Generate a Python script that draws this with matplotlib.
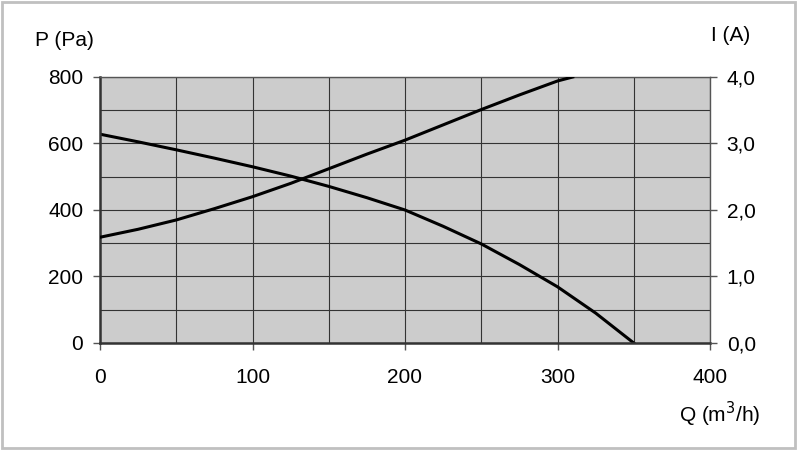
import matplotlib.pyplot as plt
from matplotlib.patches import Rectangle
from matplotlib.ticker import MultipleLocator, FuncFormatter

plt.rcParams['font.family'] = ['Liberation Sans', 'DejaVu Sans']

# pressure curve P (Pa) vs flow Q (m3/h)
q_p = [0, 25, 50, 75, 100, 125, 150, 175, 200, 225, 250, 275, 300, 325, 350]
p_vals = [628, 605, 581, 556, 530, 502, 471, 437, 400, 351, 298, 236, 169, 90, 0]

# current curve I (A) vs flow Q (m3/h)
q_i = [0, 25, 50, 75, 100, 125, 150, 175, 200, 225, 250, 275, 300, 310]
i_vals = [1.59, 1.71, 1.85, 2.02, 2.2, 2.4, 2.62, 2.84, 3.05, 3.28, 3.51, 3.73, 3.94, 4.0]

p_ticks = [0, 200, 400, 600, 800]
i_ticks = [0, 1, 2, 3, 4]
q_ticks = [0, 100, 200, 300, 400]

fig = plt.figure(figsize=(8, 4.5), dpi=100)
fig.patches.append(Rectangle((0.003, 0.005), 0.991, 0.99, transform=fig.transFigure,
                             fill=False, edgecolor='#c0c0c0', linewidth=2))
ax = fig.add_axes([0.125, 0.2378, 0.7625, 0.5911])
ax.set_facecolor('#cccccc')

ax.plot(q_p, p_vals, color='black', linewidth=2.2, solid_joinstyle='round')
ax.set_xlim(0, 400)
ax.set_ylim(0, 800)
ax.set_xticks(q_ticks)
ax.set_yticks(p_ticks)
ax.xaxis.set_minor_locator(MultipleLocator(50))
ax.yaxis.set_minor_locator(MultipleLocator(100))
ax.grid(which='both', color='#333333', linewidth=0.8)
ax.set_axisbelow(True)
ax.tick_params(which='major', direction='out', length=5, width=1, labelsize=15, color='#555555')
ax.tick_params(which='minor', length=0)
ax.tick_params(axis='x', pad=13)
ax.tick_params(axis='y', pad=7)
for s in ['left', 'bottom']:
    ax.spines[s].set_linewidth(1.8)
    ax.spines[s].set_color('#333333')
for s in ['top', 'right']:
    ax.spines[s].set_linewidth(1)
    ax.spines[s].set_color('#555555')

ax2 = ax.twinx()
ax2.plot(q_i, i_vals, color='black', linewidth=2.2, solid_joinstyle='round')
ax2.set_ylim(0, 4)
ax2.set_yticks(i_ticks)
ax2.yaxis.set_major_formatter(FuncFormatter(lambda v, pos: f"{v:.1f}".replace('.', ',')))
ax2.tick_params(direction='out', length=5, width=1, labelsize=15, pad=7, color='#555555')
for s in ax2.spines.values():
    s.set_visible(False)

fig.text(0.044, 0.911, "P (Pa)", fontsize=15, va='center', ha='left')
fig.text(0.9375, 0.922, "I (A)", fontsize=15, va='center', ha='right')
fig.text(0.951, 0.08, "Q (m$^3$/h)", fontsize=15, va='center', ha='right')

plt.savefig("out.png", dpi=100)
